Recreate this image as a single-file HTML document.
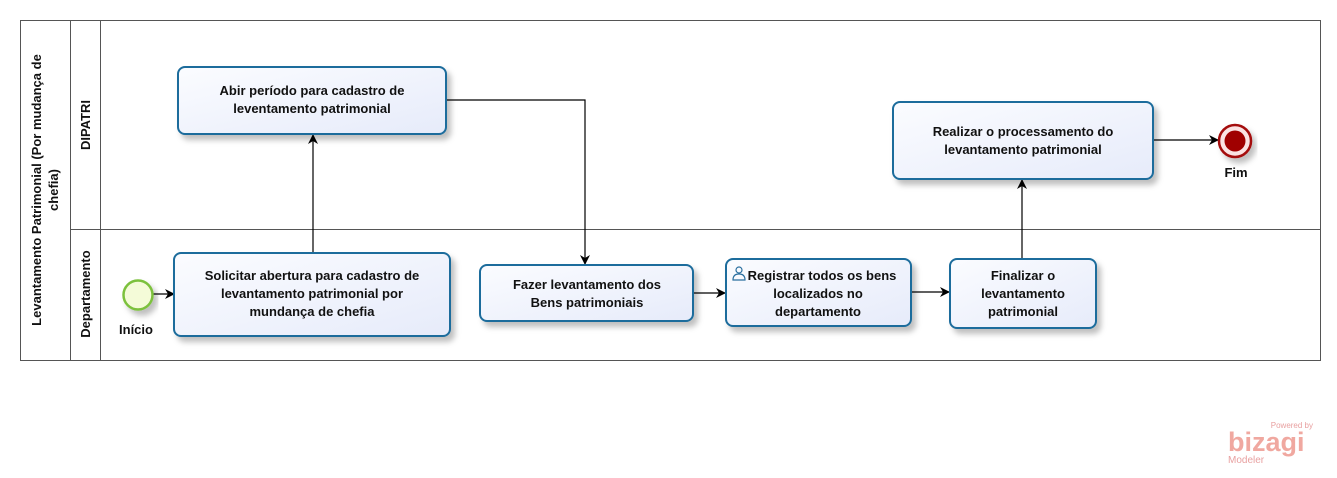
<!DOCTYPE html>
<html><head><meta charset="utf-8"><style>
body{margin:0;background:#fff;width:1337px;height:473px;overflow:hidden}
svg text{font-family:"Liberation Sans",sans-serif;font-weight:bold;font-size:13px;fill:#111}
</style></head><body>
<svg width="1337" height="473" viewBox="0 0 1337 473">
<defs>
<marker id="a" markerWidth="10" markerHeight="10" refX="9" refY="5" orient="auto" markerUnits="userSpaceOnUse"><path d="M0,0 L10,5 L0,10 L3,5 z" fill="#000"/></marker>
<linearGradient id="g" x1="0" y1="0" x2="1" y2="1"><stop offset="0" stop-color="#fbfcff"/><stop offset="1" stop-color="#e6ebfa"/></linearGradient>
<filter id="s" x="-10%" y="-10%" width="130%" height="150%"><feDropShadow dx="4" dy="5" stdDeviation="3" flood-color="#000" flood-opacity="0.25"/></filter>
</defs>
<rect x="20.5" y="20.5" width="1300" height="340" fill="none" stroke="#555"/>
<line x1="70.5" y1="20" x2="70.5" y2="360" stroke="#555"/>
<line x1="100.5" y1="20" x2="100.5" y2="360" stroke="#555"/>
<line x1="70" y1="229.5" x2="1320" y2="229.5" stroke="#555"/>
<text transform="translate(41,190) rotate(-90)" text-anchor="middle" font-size="12">Levantamento Patrimonial (Por mudança de</text>
<text transform="translate(58,190) rotate(-90)" text-anchor="middle" font-size="12">chefia)</text>
<text transform="translate(90,125) rotate(-90)" text-anchor="middle" font-size="12">DIPATRI</text>
<text transform="translate(90,294) rotate(-90)" text-anchor="middle" font-size="12">Departamento</text>
<g stroke="#000" stroke-width="1.2" fill="none">
<line x1="153" y1="294" x2="174" y2="294" marker-end="url(#a)"/>
<line x1="313" y1="253" x2="313" y2="135" marker-end="url(#a)"/>
<polyline points="446,100 585,100 585,264" marker-end="url(#a)"/>
<line x1="693" y1="293" x2="725" y2="293" marker-end="url(#a)"/>
<line x1="911" y1="292" x2="949" y2="292" marker-end="url(#a)"/>
<line x1="1022" y1="259" x2="1022" y2="180" marker-end="url(#a)"/>
<line x1="1153" y1="140" x2="1218" y2="140" marker-end="url(#a)"/>
</g>
<g fill="url(#g)" stroke="#1d6c9c" stroke-width="2" filter="url(#s)">
<rect x="178" y="67" width="268" height="67" rx="7"/>
<rect x="174" y="253" width="276" height="83" rx="7"/>
<rect x="480" y="265" width="213" height="56" rx="7"/>
<rect x="726" y="259" width="185" height="67" rx="7"/>
<rect x="950" y="259" width="146" height="69" rx="7"/>
<rect x="893" y="102" width="260" height="77" rx="7"/>
</g>
<circle cx="138" cy="295" r="14.5" fill="#f4fbd8" stroke="#7cc13c" stroke-width="2.5" filter="url(#s)"/>
<circle cx="1235" cy="141" r="16" fill="#fbe3e3" stroke="#a40f0f" stroke-width="2.5" filter="url(#s)"/>
<circle cx="1235" cy="141" r="10.5" fill="#a00000"/>
<g text-anchor="middle">
<text x="312" y="95">Abir período para cadastro de</text>
<text x="312" y="113">leventamento patrimonial</text>
<text x="312" y="280">Solicitar abertura para  cadastro de</text>
<text x="312" y="298">levantamento patrimonial por</text>
<text x="312" y="316">mundança de chefia</text>
<text x="587" y="289">Fazer levantamento dos</text>
<text x="587" y="307">Bens patrimoniais</text>
<text x="822" y="280">Registrar  todos os bens</text>
<text x="818" y="298">localizados no</text>
<text x="818" y="316">departamento</text>
<text x="1023" y="280">Finalizar  o</text>
<text x="1023" y="298">levantamento</text>
<text x="1023" y="316">patrimonial</text>
<text x="1023" y="136">Realizar o processamento  do</text>
<text x="1023" y="154">levantamento patrimonial</text>
<text x="136" y="334">Início</text>
<text x="1236" y="177">Fim</text>
</g>
<g fill="none" stroke="#2a6f9f" stroke-width="1.2"><circle cx="739" cy="270" r="3"/><path d="M733,280 q0,-6 6,-6 q6,0 6,6 z"/></g>
<text x="1313" y="428" text-anchor="end" style="font-size:8px;font-weight:normal;fill:#e8a0a0">Powered by</text>
<text x="1228" y="451" style="font-size:27px;font-weight:bold;fill:#f0a8a0">bizagi</text>
<text x="1228" y="463" style="font-size:10px;font-weight:normal;fill:#e8a0a0">Modeler</text>
</svg>
</body></html>
